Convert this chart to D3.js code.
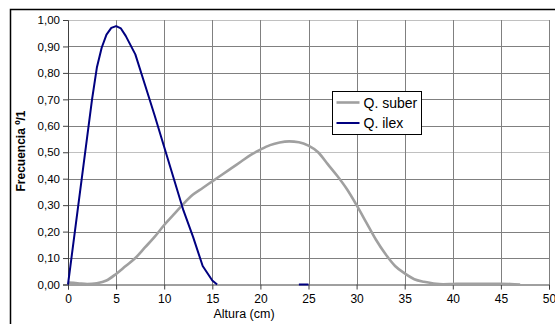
<!DOCTYPE html>
<html>
<head>
<meta charset="utf-8">
<script src="https://cdn.jsdelivr.net/npm/d3@7"></script>
<style>
  body { margin:0; background:#fff; }
  text { font-family: Arial, "Liberation Sans", sans-serif; }
</style>
</head>
<body>
<svg class="chart" width="555" height="324"></svg>
<script>
// Q. suber: altura (cm) y frecuencia
var suberAltura = [0,1,2,3,4,5,6,7,8,9,10,11,12,13,14,15,16,17,18,19,20,21,22,23,24,25,26,27,28,29,30,31,32,33,34,35,36,37,38,39,40,41,42,43,44,45,46,47];
var suberFrec = [0.007,0.005,0.002,0.005,0.015,0.04,0.07,0.10,0.14,0.18,0.225,0.265,0.305,0.34,0.365,0.39,0.415,0.44,0.465,0.49,0.51,0.527,0.537,0.541,0.538,0.525,0.50,0.455,0.41,0.36,0.30,0.235,0.17,0.115,0.07,0.042,0.02,0.01,0.004,0.001,0.002,0.003,0.003,0.003,0.003,0.003,0.002,0];

// Q. ilex (null = sin dato)
var ilexAltura = [0,1,2,2.5,3,3.5,4,4.5,5,5.5,6,7,8,9,10,11,12,13,14,15,15.5,20,24,25];
var ilexFrec = [0,0.28,0.56,0.70,0.82,0.895,0.945,0.97,0.977,0.968,0.94,0.87,0.755,0.64,0.52,0.40,0.28,0.18,0.07,0.015,0,null,0,0];

var xTicks = [0,5,10,15,20,25,30,35,40,45,50];
var yTicks = [0,0.1,0.2,0.3,0.4,0.5,0.6,0.7,0.8,0.9,1.0];
var seriesNames = ["Q. suber","Q. ilex"];
var colors = ["#a0a0a0","#000080"];

var margins = { top:20, left:68, right:6, bottom:40 };
var width = 555, height = 324;

var svg = d3.select('.chart');

// marco exterior
svg.append('rect')
  .attr('x',10.5).attr('y',9.5)
  .attr('width',560).attr('height',340)
  .attr('fill','#fff').attr('stroke','#000').attr('stroke-width',1.5);

var x = d3.scaleLinear().domain([0,50]).range([margins.left, width-margins.right]);
var y = d3.scaleLinear().domain([0,1]).range([284.5, margins.top]);

// rejilla
svg.append('g').selectAll('line').data(yTicks.slice(1)).enter().append('line')
  .attr('x1',x(0)).attr('x2',x(50))
  .attr('y1',function(d){return Math.round(y(d))+0.5;})
  .attr('y2',function(d){return Math.round(y(d))+0.5;})
  .attr('stroke',function(d){ return (Math.abs(d-0.5)<1e-6||Math.abs(d-1)<1e-6) ? '#c0c0c0' : '#808080'; })
  .attr('stroke-width',1);
svg.append('g').selectAll('line').data(xTicks.slice(1)).enter().append('line')
  .attr('y1',y(0)).attr('y2',y(1))
  .attr('x1',function(d){return Math.round(x(d))+0.5;})
  .attr('x2',function(d){return Math.round(x(d))+0.5;})
  .attr('stroke','#808080').attr('stroke-width',1);

// ejes
var fmt = function(d){ return d3.format('.2f')(d).replace('.',','); };
var yAxis = d3.axisLeft(y).tickValues(yTicks).tickFormat(fmt).tickSize(5).tickPadding(3);
var xAxis = d3.axisBottom(x).tickValues(xTicks).tickSize(5).tickPadding(5);

var gy = svg.append('g').attr('transform','translate(' + x(0) + ',0)').call(yAxis);
var gx = svg.append('g').attr('transform','translate(0,' + y(0) + ')').call(xAxis);
[gx,gy].forEach(function(g){
  g.select('.domain').attr('stroke','#404040');
  g.selectAll('.tick line').attr('stroke','#404040');
  g.selectAll('text').attr('fill','#000').style('font-family','Arial, "Liberation Sans", sans-serif');
});
gx.selectAll('text').style('font-size','12px');
gy.selectAll('text').style('font-size','11.5px');

// titulos
svg.append('text')
  .attr('x',244).attr('y',318)
  .attr('text-anchor','middle')
  .style('font-size','12.5px')
  .text('Altura (cm)');
svg.append('text')
  .attr('transform','translate(25,151) rotate(-90)')
  .attr('text-anchor','middle')
  .style('font-size','12px').style('font-weight','bold')
  .text('Frecuencia º/1');

// lineas
var lineGen = d3.line()
  .defined(function(d){ return d[1] !== null; })
  .x(function(d){ return x(d[0]); })
  .y(function(d){ return y(d[1]); });

var suber = suberAltura.map(function(a,i){ return [a, suberFrec[i]]; });
var ilex = ilexAltura.map(function(a,i){ return [a, ilexFrec[i]]; });

svg.append('path').attr('d',lineGen.curve(d3.curveMonotoneX)(suber))
  .attr('fill','none').attr('stroke',colors[0]).attr('stroke-width',2.6);
svg.append('path').attr('d',lineGen.curve(d3.curveLinear)(ilex))
  .attr('fill','none').attr('stroke',colors[1]).attr('stroke-width',2)
  .attr('stroke-linejoin','round');

// leyenda
var legend = svg.append('g').attr('transform','translate(332.5,91.5)');
legend.append('rect').attr('width',89).attr('height',43)
  .attr('fill','#fff').attr('stroke','#000').attr('stroke-width',1);
seriesNames.forEach(function(name,i){
  var ly = 11 + i*20.5;
  legend.append('line').attr('x1',4).attr('x2',27).attr('y1',ly).attr('y2',ly)
    .attr('stroke',colors[i]).attr('stroke-width', i==0 ? 2.6 : 2);
  legend.append('text').attr('x',31).attr('y',ly+5)
    .style('font-size','14px').text(name);
});
</script>
</body>
</html>
